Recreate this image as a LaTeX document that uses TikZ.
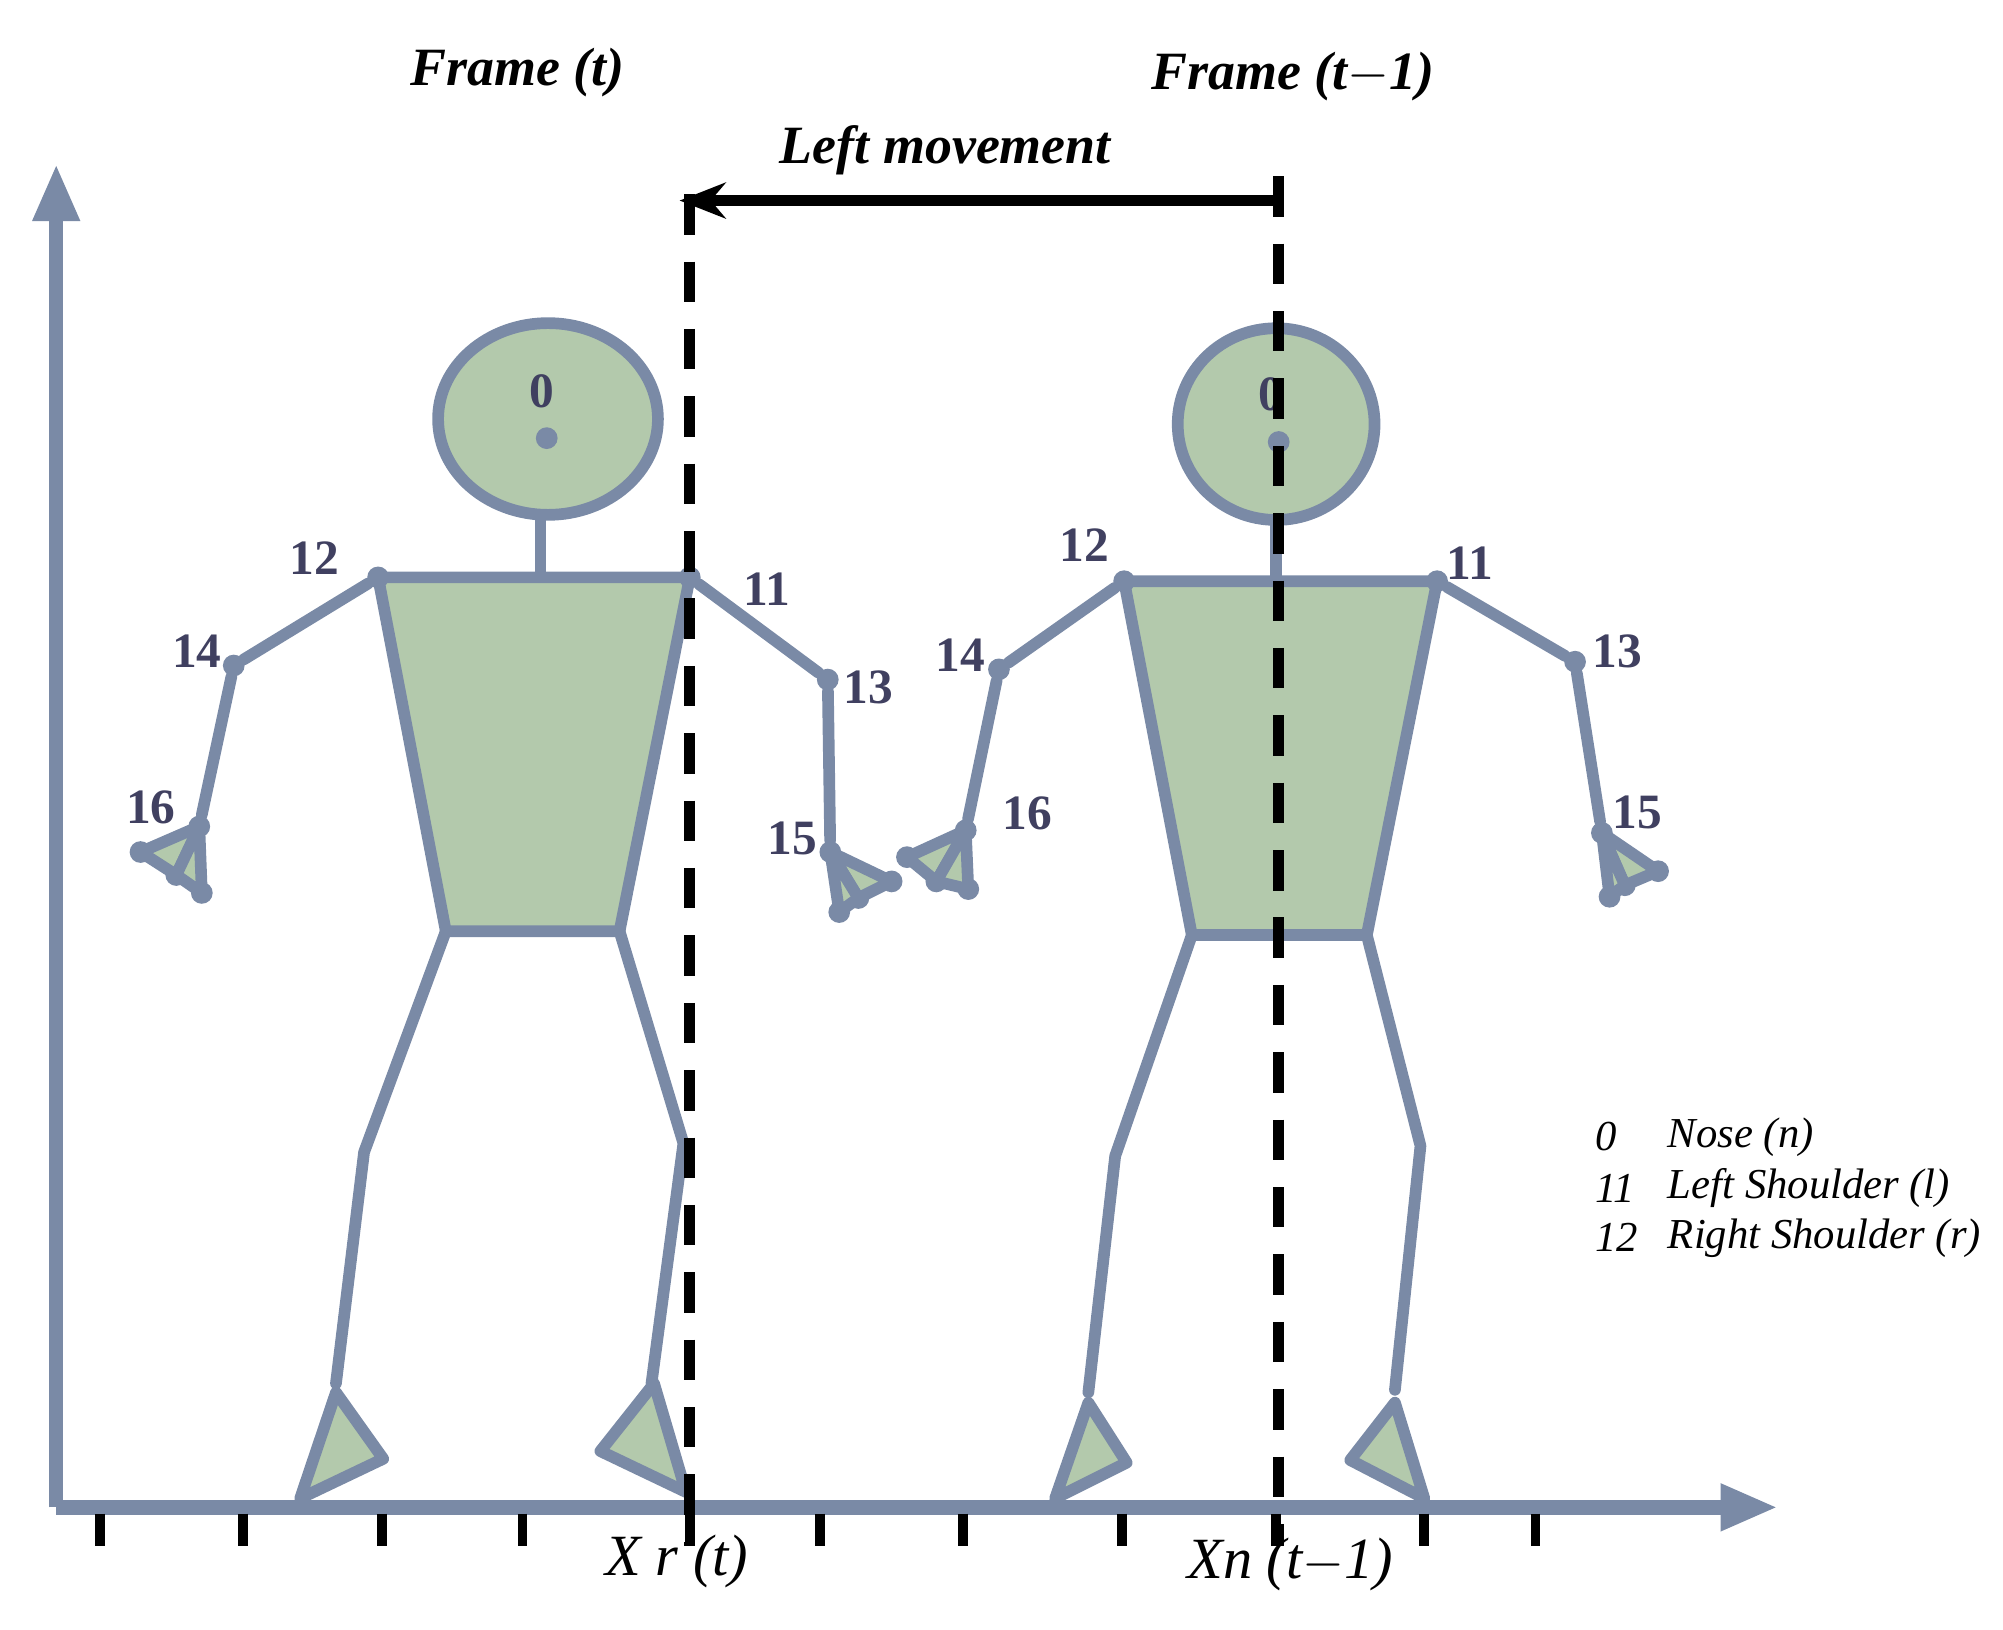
\documentclass[tikz,border=0pt]{standalone}
\usepackage{fontspec}
\setmainfont{Liberation Serif}
\usetikzlibrary{arrows.meta,shapes.geometric}
\definecolor{sl}{HTML}{7A8AA6}
\definecolor{fl}{HTML}{B3C9AC}
\definecolor{lb}{HTML}{404060}
\begin{document}
\begin{tikzpicture}[x=0.01cm,y=-0.01cm,
 body/.style={draw=sl,line width=2.6pt,line join=round},
 fil/.style={body,fill=fl},
 lim/.style={draw=sl,line width=2.6pt,line cap=round,line join=round},
 jt/.style={circle,fill=sl,inner sep=0pt,minimum size=0.17cm},
 num/.style={font=\fontsize{11}{11}\selectfont\bfseries,text=lb},
 ttl/.style={font=\fontsize{12}{12}\selectfont\bfseries\itshape},
 dsh/.style={draw=black,line width=2.4pt,dash pattern=on 9pt off 6pt},
 tick/.style={draw=black,line width=2.2pt}]
\useasboundingbox (0,0) rectangle (1568,1276);
% axes
\coordinate (o) at (44,1180);
\coordinate (yt) at (44,128);
\coordinate (xt) at (1392,1180);
\draw[sl,line width=3.2pt,-{Triangle[length=0.45cm,width=0.34cm]}] (o) -- (yt);
\draw[sl,line width=3.2pt,-{Triangle[length=0.45cm,width=0.34cm]}] (o) -- (xt);
\foreach \x in {78,190,299,409,540,642,754,878,999,1115,1202}
 \draw[tick] (\x,1185) -- (\x,1210);
% person 1
\node[fil,ellipse,minimum width=1.72cm,minimum height=1.5cm,inner sep=0pt] (h1) at (429,328) {};
\node[jt] (n1) at (428,343) {};
\coordinate (nk1) at (423,450);
\draw[lim] (423,405) -- (nk1);
\draw[fil] (296,452) -- (540,452) -- (485,729) -- (349,729) -- cycle;
\node[jt] (s12a) at (296,452) {}; \node[jt] (e14a) at (183,521) {}; \node[jt] (w16a) at (156,647) {};
\node[jt] (s11a) at (540,452) {}; \node[jt] (e13a) at (648,532) {}; \node[jt] (w15a) at (650,667) {};
\draw[lim] (s12a) -- (e14a) -- (w16a);
\draw[lim] (s11a) -- (e13a) -- (w15a);
% hand 16a
\node[jt] (a1) at (110,667) {}; \node[jt] (a2) at (138,685) {}; \node[jt] (a3) at (158,699) {};
\draw[fil] (w16a.center) -- (a1.center) -- (a2.center) -- cycle;
\draw[fil] (w16a.center) -- (a2.center) -- (a3.center) -- cycle;
% hand 15a
\node[jt] (b1) at (698,690) {}; \node[jt] (b2) at (672,703) {}; \node[jt] (b3) at (657,714) {};
\draw[fil] (w15a.center) -- (b1.center) -- (b2.center) -- cycle;
\draw[fil] (w15a.center) -- (b2.center) -- (b3.center) -- cycle;
% legs
\draw[lim] (349,729) -- (285,902) -- (263,1083);
\draw[lim] (485,729) -- (535,895) -- (510,1083);
\draw[fil] (263,1090) -- (300,1142) -- (235,1173) -- cycle;
\draw[fil] (512,1083) -- (537,1168) -- (470,1136) -- cycle;
\node[num] at (424,306) {0};
\node[num] at (246,437) {12};
\node[num] at (154,510) {14};
\node[num] at (118,632) {16};
\node[num] at (600,461) {11};
\node[num] at (680,538) {13};
\node[num] at (620,656) {15};
% person 2
\node[fil,ellipse,minimum width=1.54cm,minimum height=1.5cm,inner sep=0pt] (h2) at (999,332) {};
\node[jt] (n2) at (1001,346) {};
\draw[lim] (999,408) -- (999,455);
\draw[fil] (880,455) -- (1125,455) -- (1070,732) -- (933,732) -- cycle;
\node[jt] (s12b) at (880,455) {}; \node[jt] (e14b) at (782,524) {}; \node[jt] (w16b) at (756,650) {};
\node[jt] (s11b) at (1125,455) {}; \node[jt] (e13b) at (1233,518) {}; \node[jt] (w15b) at (1254,652) {};
\draw[lim] (s12b) -- (e14b) -- (w16b);
\draw[lim] (s11b) -- (e13b) -- (w15b);
\node[jt] (c1) at (710,671) {}; \node[jt] (c2) at (733,690) {}; \node[jt] (c3) at (758,696) {};
\draw[fil] (w16b.center) -- (c1.center) -- (c2.center) -- cycle;
\draw[fil] (w16b.center) -- (c2.center) -- (c3.center) -- cycle;
\node[jt] (d1) at (1298,682) {}; \node[jt] (d2) at (1272,693) {}; \node[jt] (d3) at (1260,702) {};
\draw[fil] (w15b.center) -- (d1.center) -- (d2.center) -- cycle;
\draw[fil] (w15b.center) -- (d2.center) -- (d3.center) -- cycle;
\draw[lim] (933,732) -- (873,905) -- (852,1090);
\draw[lim] (1070,732) -- (1112,897) -- (1092,1088);
\draw[fil] (852,1098) -- (882,1145) -- (826,1173) -- cycle;
\draw[fil] (1092,1098) -- (1115,1173) -- (1057,1143) -- cycle;
\node[num] at (995,309) {0};
\node[num] at (849,427) {12};
\node[num] at (752,513) {14};
\node[num] at (804,637) {16};
\node[num] at (1151,441) {11};
\node[num] at (1266,510) {13};
\node[num] at (1282,636) {15};
% dashed lines & arrow
\coordinate (d1t) at (540,152); \coordinate (d1b) at (540,1210);
\coordinate (d2t) at (1001,138); \coordinate (d2b) at (1001,1210);
\draw[dsh] (d1t) -- (d1b);
\draw[dsh] (d2t) -- (d2b);
\coordinate (as) at (1001,157); \coordinate (ae) at (532,157);
\draw[line width=2.4pt,-{Stealth[length=0.36cm,width=0.28cm]}] (as) -- (ae);
% texts
\node[ttl] (f1) at (405,57) {Frame (t)};
\node[ttl] (f2) at (1012,60) {Frame (t$-$1)};
\node[ttl] (lm) at (740,118) {Left movement};
\node[font=\fontsize{13}{13}\selectfont\itshape] (xr) at (530,1222) {X r (t)};
\node[font=\fontsize{13}{13}\selectfont\itshape] (xn) at (1010,1225) {Xn (t$-$1)};
\begin{scope}[every node/.style={font=\fontsize{9.5}{9.5}\selectfont\itshape,anchor=west,inner sep=0pt}]
\node at (1248,890) {0};
\node at (1305,890) {Nose (n)};
\node at (1248,930) {11};
\node at (1305,930) {Left Shoulder (l)};
\node at (1248,969) {12};
\node at (1305,969) {Right Shoulder (r)};
\end{scope}
\end{tikzpicture}
\end{document}
